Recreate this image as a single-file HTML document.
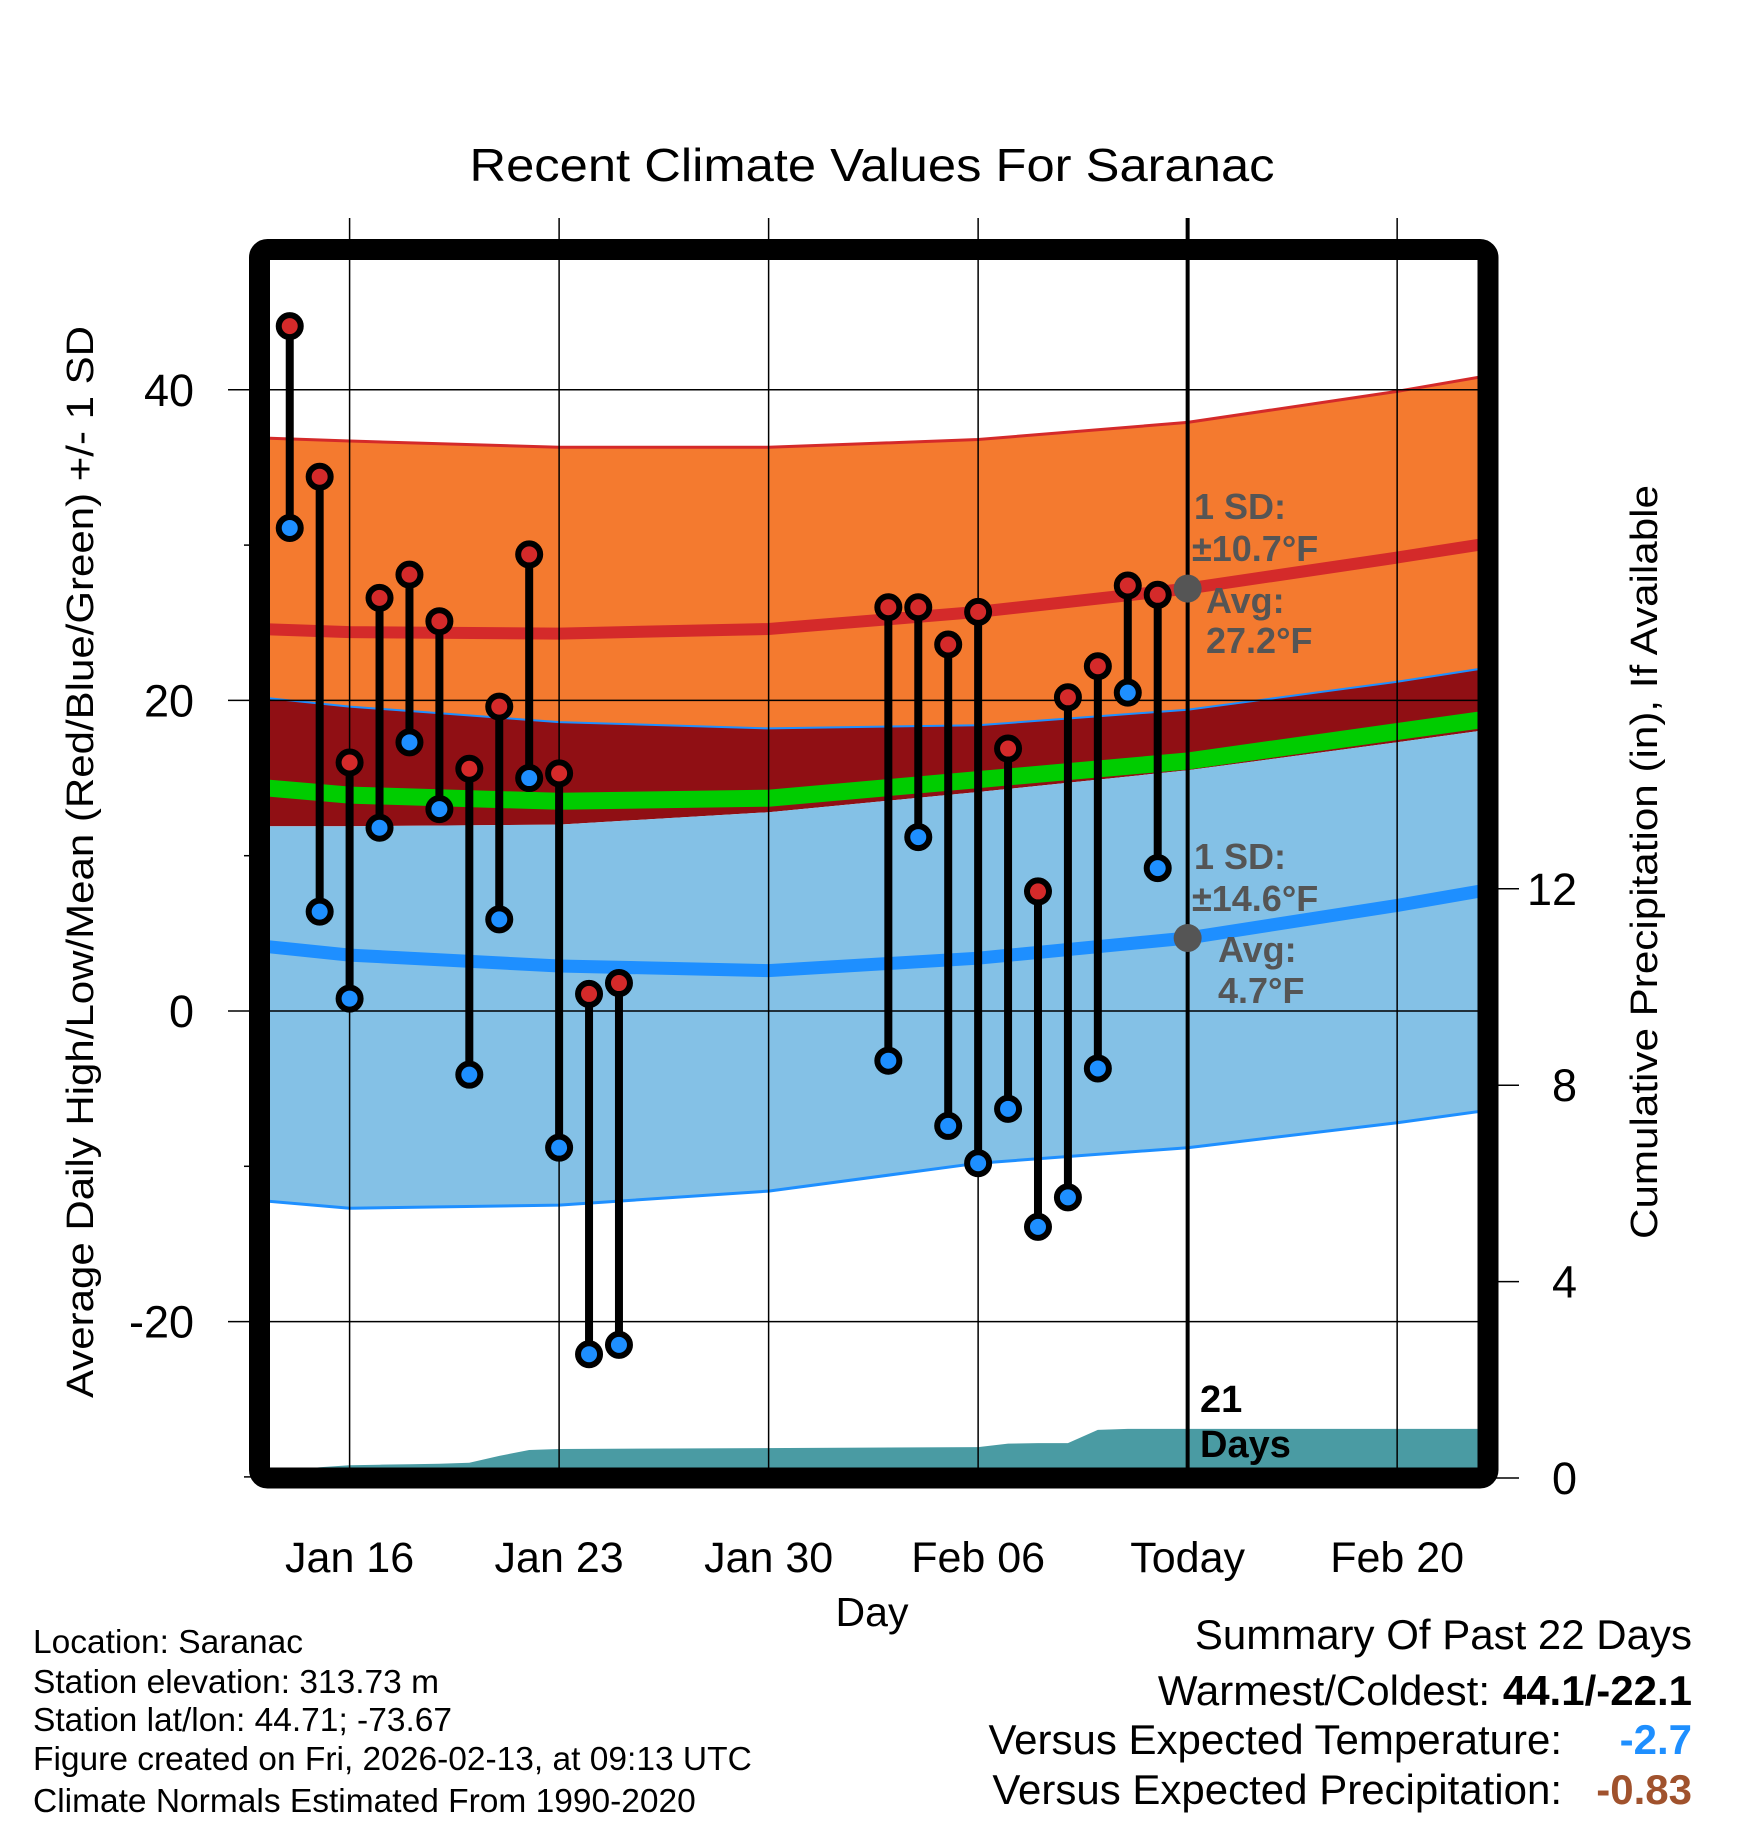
<!DOCTYPE html>
<html><head><meta charset="utf-8"><style>
html,body{margin:0;padding:0;background:#fff;}
svg{display:block;font-family:"Liberation Sans",Arial,sans-serif;}
</style></head><body>
<svg id="chart" width="1748" height="1828" viewBox="0 0 1748 1828" xmlns="http://www.w3.org/2000/svg">
<defs><clipPath id="plotclip"><rect x="270" y="260" width="1208" height="1208"/></clipPath></defs>
<text x="872" y="181" font-size="46" text-anchor="middle" textLength="805" lengthAdjust="spacingAndGlyphs">Recent Climate Values For Saranac</text>
<g id="bands" clip-path="url(#plotclip)"></g>
<g id="grid"></g>
<g id="marks"></g>
<g id="axes"></g>
<text transform="translate(93,862) rotate(-90)" font-size="38" text-anchor="middle" textLength="1072" lengthAdjust="spacingAndGlyphs">Average Daily High/Low/Mean (Red/Blue/Green) +/- 1 SD</text>
<text transform="translate(1657,862) rotate(-90)" font-size="38" text-anchor="middle" textLength="754" lengthAdjust="spacingAndGlyphs">Cumulative Precipitation (in), If Available</text>
<text x="872" y="1626" font-size="41" text-anchor="middle">Day</text>
<g font-size="33.5">
<text x="33" y="1653">Location: Saranac</text>
<text x="33" y="1693">Station elevation: 313.73 m</text>
<text x="33" y="1731">Station lat/lon: 44.71; -73.67</text>
<text x="33" y="1770">Figure created on Fri, 2026-02-13, at 09:13 UTC</text>
<text x="33" y="1812">Climate Normals Estimated From 1990-2020</text>
</g>
<g font-size="42">
<text x="1692" y="1649" text-anchor="end">Summary Of Past 22 Days</text>
<text x="1490" y="1705" text-anchor="end">Warmest/Coldest:</text>
<text x="1692" y="1705" text-anchor="end" font-weight="bold">44.1/-22.1</text>
<text x="1562" y="1754" text-anchor="end">Versus Expected Temperature:</text>
<text x="1692" y="1754" text-anchor="end" font-weight="bold" fill="#1e8fff">-2.7</text>
<text x="1562" y="1804" text-anchor="end">Versus Expected Precipitation:</text>
<text x="1692" y="1804" text-anchor="end" font-weight="bold" fill="#a0522d">-0.83</text>
</g>
</svg>
<script>
// ---- data ----
const obsDays = [-2,-1,0,1,2,3,4,5,6,7,8,9,18,19,20,21,22,23,24,25,26,27];
const highs = [44.1,34.4,16.0,26.6,28.1,25.1,15.6,19.6,29.4,15.3,1.1,1.8,26.0,26.0,23.6,25.7,16.9,7.7,20.2,22.2,27.4,26.8];
const lows = [31.1,6.4,0.8,11.8,17.3,13.0,-4.1,5.9,15.0,-8.8,-22.1,-21.5,-3.2,11.2,-7.4,-9.8,-6.3,-13.9,-12.0,-3.7,20.5,9.2];
const normDays = [-3,0,7,14,21,28,35,38];
const hiMean = [24.6,24.4,24.3,24.6,25.7,27.2,29.2,30.1];
const hiTop = [36.9,36.7,36.3,36.3,36.8,37.9,39.9,40.9];
const hiBot = [20.2,19.6,18.6,18.2,18.4,19.4,21.2,22.1];
const loMean = [4.2,3.6,2.9,2.6,3.4,4.7,6.8,7.8];
const loTop = [11.9,11.9,12.0,12.8,14.1,15.5,17.3,18.1];
const loBot = [-12.2,-12.7,-12.5,-11.6,-9.8,-8.8,-7.2,-6.4];
const meanLine = [14.4,13.9,13.5,13.7,14.9,16.1,18.0,18.8];
const precipDays = [-3,-2,-1,0,1,2,3,4,5,6,7,21,22,23,24,25,26,38];
const precipVals = [0.1,0.15,0.22,0.26,0.27,0.28,0.29,0.31,0.45,0.57,0.59,0.63,0.70,0.71,0.71,0.98,1.0,1.0];
const yTicks = [-20,0,20,40];
const y2Ticks = [0,4,8,12];
const xTickDays = [0,7,14,21,28,35];
const xTickLabels = ["Jan 16","Jan 23","Jan 30","Feb 06","Today","Feb 20"];
// ---- axes ----
const X = d => 349.6 + d*29.93;
const Y = v => 1011 - v*15.53;
const YP = p => 1478 - p*49.1;
const NS = "http://www.w3.org/2000/svg";
function mk(tag, attrs, parent){const e=document.createElementNS(NS,tag);for(const k in attrs)e.setAttribute(k,attrs[k]);parent.appendChild(e);return e;}
const bands=document.getElementById('bands'), grid=document.getElementById('grid'), marks=document.getElementById('marks'), axes=document.getElementById('axes');
function pts(arr){return normDays.map((d,i)=>X(d).toFixed(1)+','+Y(arr[i]).toFixed(1));}
function band(top,bot,fill,name){
  const p = pts(top).concat(pts(bot).reverse());
  const e = mk('polygon',{points:p.join(' '),fill:fill},bands);
  
  
}
function line(arr,color,w,name){
  const e = mk('polyline',{points:pts(arr).join(' '),fill:'none',stroke:color,'stroke-width':w},bands);
  
  
}
band(hiBot,loTop,'#900f14','gap-band');
band(hiTop,hiBot,'#f47a2f','high-sd-band');
band(loTop,loBot,'#84c1e6','low-sd-band');
line(hiTop,'#d42a2a',3,'high-sd-top-line');
line(hiBot,'#1e8fff',2,'high-sd-bottom-line');
line(loBot,'#1e8fff',3,'low-sd-bottom-line');
line(meanLine,'#00cc00',17,'mean-normal-line');
line(hiMean,'#d42a2a',12,'high-normal-line');
line(loMean,'#1e8fff',13,'low-normal-line');
// precip
{
  let p=[X(precipDays[0]).toFixed(1)+','+YP(0)];
  precipDays.forEach((d,i)=>p.push(X(d).toFixed(1)+','+YP(precipVals[i]).toFixed(1)));
  p.push(X(precipDays[precipDays.length-1]).toFixed(1)+','+YP(0));
  const e=mk('polygon',{points:p.join(' '),fill:'#4a9ba3'},bands);
  
  
}
// grid
yTicks.forEach(v=>{
  const e=mk('line',{x1:228,x2:1478,y1:Y(v),y2:Y(v),stroke:'#000','stroke-width':1.5},grid);
  
  
  const t=mk('text',{x:194,y:Y(v)+16,'font-size':45,'text-anchor':'end'},axes);
  t.textContent=v;
  
  
});
[-30,-10,10,30].forEach(v=>{mk('line',{x1:244,x2:259,y1:Y(v),y2:Y(v),stroke:'#000','stroke-width':1.5},grid);});
xTickDays.forEach((d,i)=>{
  const e=mk('line',{x1:X(d),x2:X(d),y1:218,y2:1468,stroke:'#000','stroke-width':1.5},grid);
  
  
  const t=mk('text',{x:X(d),y:1572,'font-size':43,'text-anchor':'middle'},axes);
  t.textContent=xTickLabels[i];
  
  
});
y2Ticks.forEach(p=>{
  mk('line',{x1:1488,x2:1519,y1:YP(p),y2:YP(p),stroke:'#000','stroke-width':1.5},axes);
  const t=mk('text',{x:1577,y:YP(p)+16,'font-size':45,'text-anchor':'end'},axes);
  t.textContent=p;
  
  
});
// today line
{const e=mk('line',{x1:X(28),x2:X(28),y1:218,y2:1478,stroke:'#000','stroke-width':4},grid);

}
// annotations
function txt(x,y,s,size,fill,name){const t=mk('text',{x:x,y:y,'font-size':size,'font-weight':'bold',fill:fill},marks);t.textContent=s;return t;}
mk('circle',{cx:X(28),cy:Y(hiMean[5]),r:14,fill:'#555'},marks);
mk('circle',{cx:X(28),cy:Y(loMean[5]),r:14,fill:'#555'},marks);
txt(1194,519,'1 SD:',36,'#555','high-sd-label');
txt(1192,561,'\u00b110.7\u00b0F',36,'#555','high-sd-value');
txt(1206,613,'Avg:',36,'#555','high-avg-label');
txt(1206,653,'27.2\u00b0F',36,'#555','high-avg-value');
txt(1194,869,'1 SD:',36,'#555','low-sd-label');
txt(1192,911,'\u00b114.6\u00b0F',36,'#555','low-sd-value');
txt(1218,962,'Avg:',36,'#555','low-avg-label');
txt(1218,1003,'4.7\u00b0F',36,'#555','low-avg-value');
txt(1200,1412,'21',38,'#000','days-count');
txt(1200,1457,'Days',38,'#000','days-label');
// observations
obsDays.forEach((d,i)=>{
  const g=mk('g',{},marks);
  
  
  mk('line',{x1:X(d),x2:X(d),y1:Y(highs[i]),y2:Y(lows[i]),stroke:'#000','stroke-width':8},g);
  const h=mk('circle',{cx:X(d),cy:Y(highs[i]),r:11,fill:'#d42a2a',stroke:'#000','stroke-width':6},g);
  
  
  const l=mk('circle',{cx:X(d),cy:Y(lows[i]),r:11,fill:'#1e8fff',stroke:'#000','stroke-width':6},g);
  
  
});
// frame
{const f=mk('rect',{x:259.5,y:249.5,width:1228.5,height:1228.5,rx:8,fill:'none',stroke:'#000','stroke-width':21},axes);

}
</script>
</body></html>
